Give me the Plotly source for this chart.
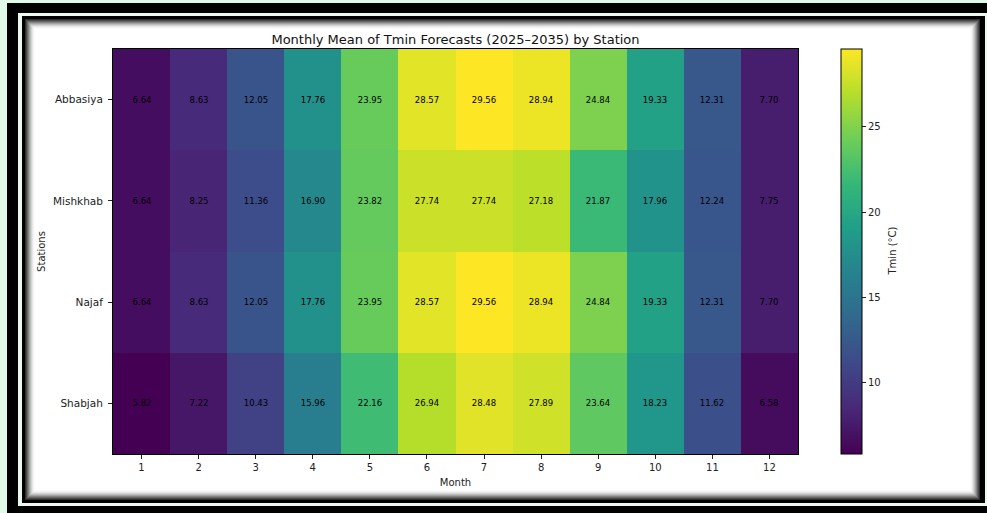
import plotly.graph_objects as go

stations = ["Abbasiya", "Mishkhab", "Najaf", "Shabjah"]
months = [1, 2, 3, 4, 5, 6, 7, 8, 9, 10, 11, 12]
abbasiya = [6.64, 8.63, 12.05, 17.76, 23.95, 28.57, 29.56, 28.94, 24.84, 19.33, 12.31, 7.70]
mishkhab = [6.64, 8.25, 11.36, 16.90, 23.82, 27.74, 27.74, 27.18, 21.87, 17.96, 12.24, 7.75]
najaf = [6.64, 8.63, 12.05, 17.76, 23.95, 28.57, 29.56, 28.94, 24.84, 19.33, 12.31, 7.70]
shabjah = [5.82, 7.22, 10.43, 15.96, 22.16, 26.94, 28.48, 27.89, 23.64, 18.23, 11.62, 6.58]
z = [abbasiya, mishkhab, najaf, shabjah]
zmin = min(min(r) for r in z)
zmax = max(max(r) for r in z)

W, H = 987, 513
L, R, T, B = 113, 798, 49, 454
pw, ph = R - L, B - T


def px(x):
    return (x - L) / pw


def py(y):
    return (B - y) / ph


FONT = "DejaVu Sans"

fig = go.Figure(go.Heatmap(
    z=z, x=months, y=stations,
    colorscale="Viridis", zmin=zmin, zmax=zmax,
    texttemplate="%{z:.2f}", textfont=dict(family=FONT, size=8.5, color="black"),
    colorbar=dict(
        x=px(841), xanchor="left", xpad=0, ypad=0, y=0.5, yanchor="middle",
        len=1, lenmode="fraction", thickness=21, outlinewidth=1, outlinecolor="black",
        tickvals=[10, 15, 20, 25], ticks="outside", ticklen=4, tickcolor="#222",
        tickfont=dict(family=FONT, size=10, color="#222"),
    ),
    hoverongaps=False,
))

# decorative frame (pixel boxes: x0, y0, x1, y1, colour)
frame = [
    (7, 3, 1000, 513, "black"),
    (18, 13, 987, 506, "#eafaf0"),
    (22, 16, 985, 503, "black"),
]
shadow = ["#2e2e2e", "#4a4a4a", "#676767", "#858585", "#a2a2a2", "#bcbcbc",
          "#d3d3d3", "#e6e6e6", "#f3f3f3", "#fbfbfb", "white"]
for i, c in enumerate(shadow):
    frame.append((25 + i, 19 + i, 980 - i, 500 - i, c))

shapes = []
for x0, y0, x1, y1, c in frame:
    shapes.append(dict(type="rect", xref="paper", yref="paper", x0=px(x0), x1=px(x1),
                       y0=py(y1), y1=py(y0), fillcolor=c, line=dict(width=0), layer="below"))

fig.update_layout(
    width=W, height=H,
    margin=dict(l=L, r=W - R, t=T, b=H - B, pad=0),
    paper_bgcolor="#e0faea", plot_bgcolor="rgba(0,0,0,0)",
    shapes=shapes,
    font=dict(family=FONT, color="#222"),
    title=dict(text="Monthly Mean of Tmin Forecasts (2025–2035) by Station",
               xref="paper", x=0.5, xanchor="center", y=1 - 39 / H, yanchor="middle",
               font=dict(family=FONT, size=13, color="#111")),
    annotations=[dict(text="Tmin (°C)", xref="paper", yref="paper", x=px(892), y=0.5,
                      xanchor="center", yanchor="middle", textangle=-90, showarrow=False,
                      font=dict(family=FONT, size=10, color="#222"))],
    xaxis=dict(tickmode="array", tickvals=months, ticks="outside", ticklen=4, tickcolor="#222",
               tickfont=dict(size=10), showline=True, linecolor="black", mirror=True,
               showgrid=False, zeroline=False,
               title=dict(text="Month", font=dict(size=10), standoff=6)),
    yaxis=dict(autorange="reversed", ticks="outside", ticklen=4, tickcolor="#222",
               tickfont=dict(size=10.5), ticklabelstandoff=3, showline=True, linecolor="black",
               mirror=True, showgrid=False, zeroline=False,
               title=dict(text="Stations", font=dict(size=10), standoff=5)),
)

fig.write_html("out.html", config={"displayModeBar": False},
               post_script="document.body.style.margin='0';document.body.style.padding='0';document.body.style.overflow='hidden';")
